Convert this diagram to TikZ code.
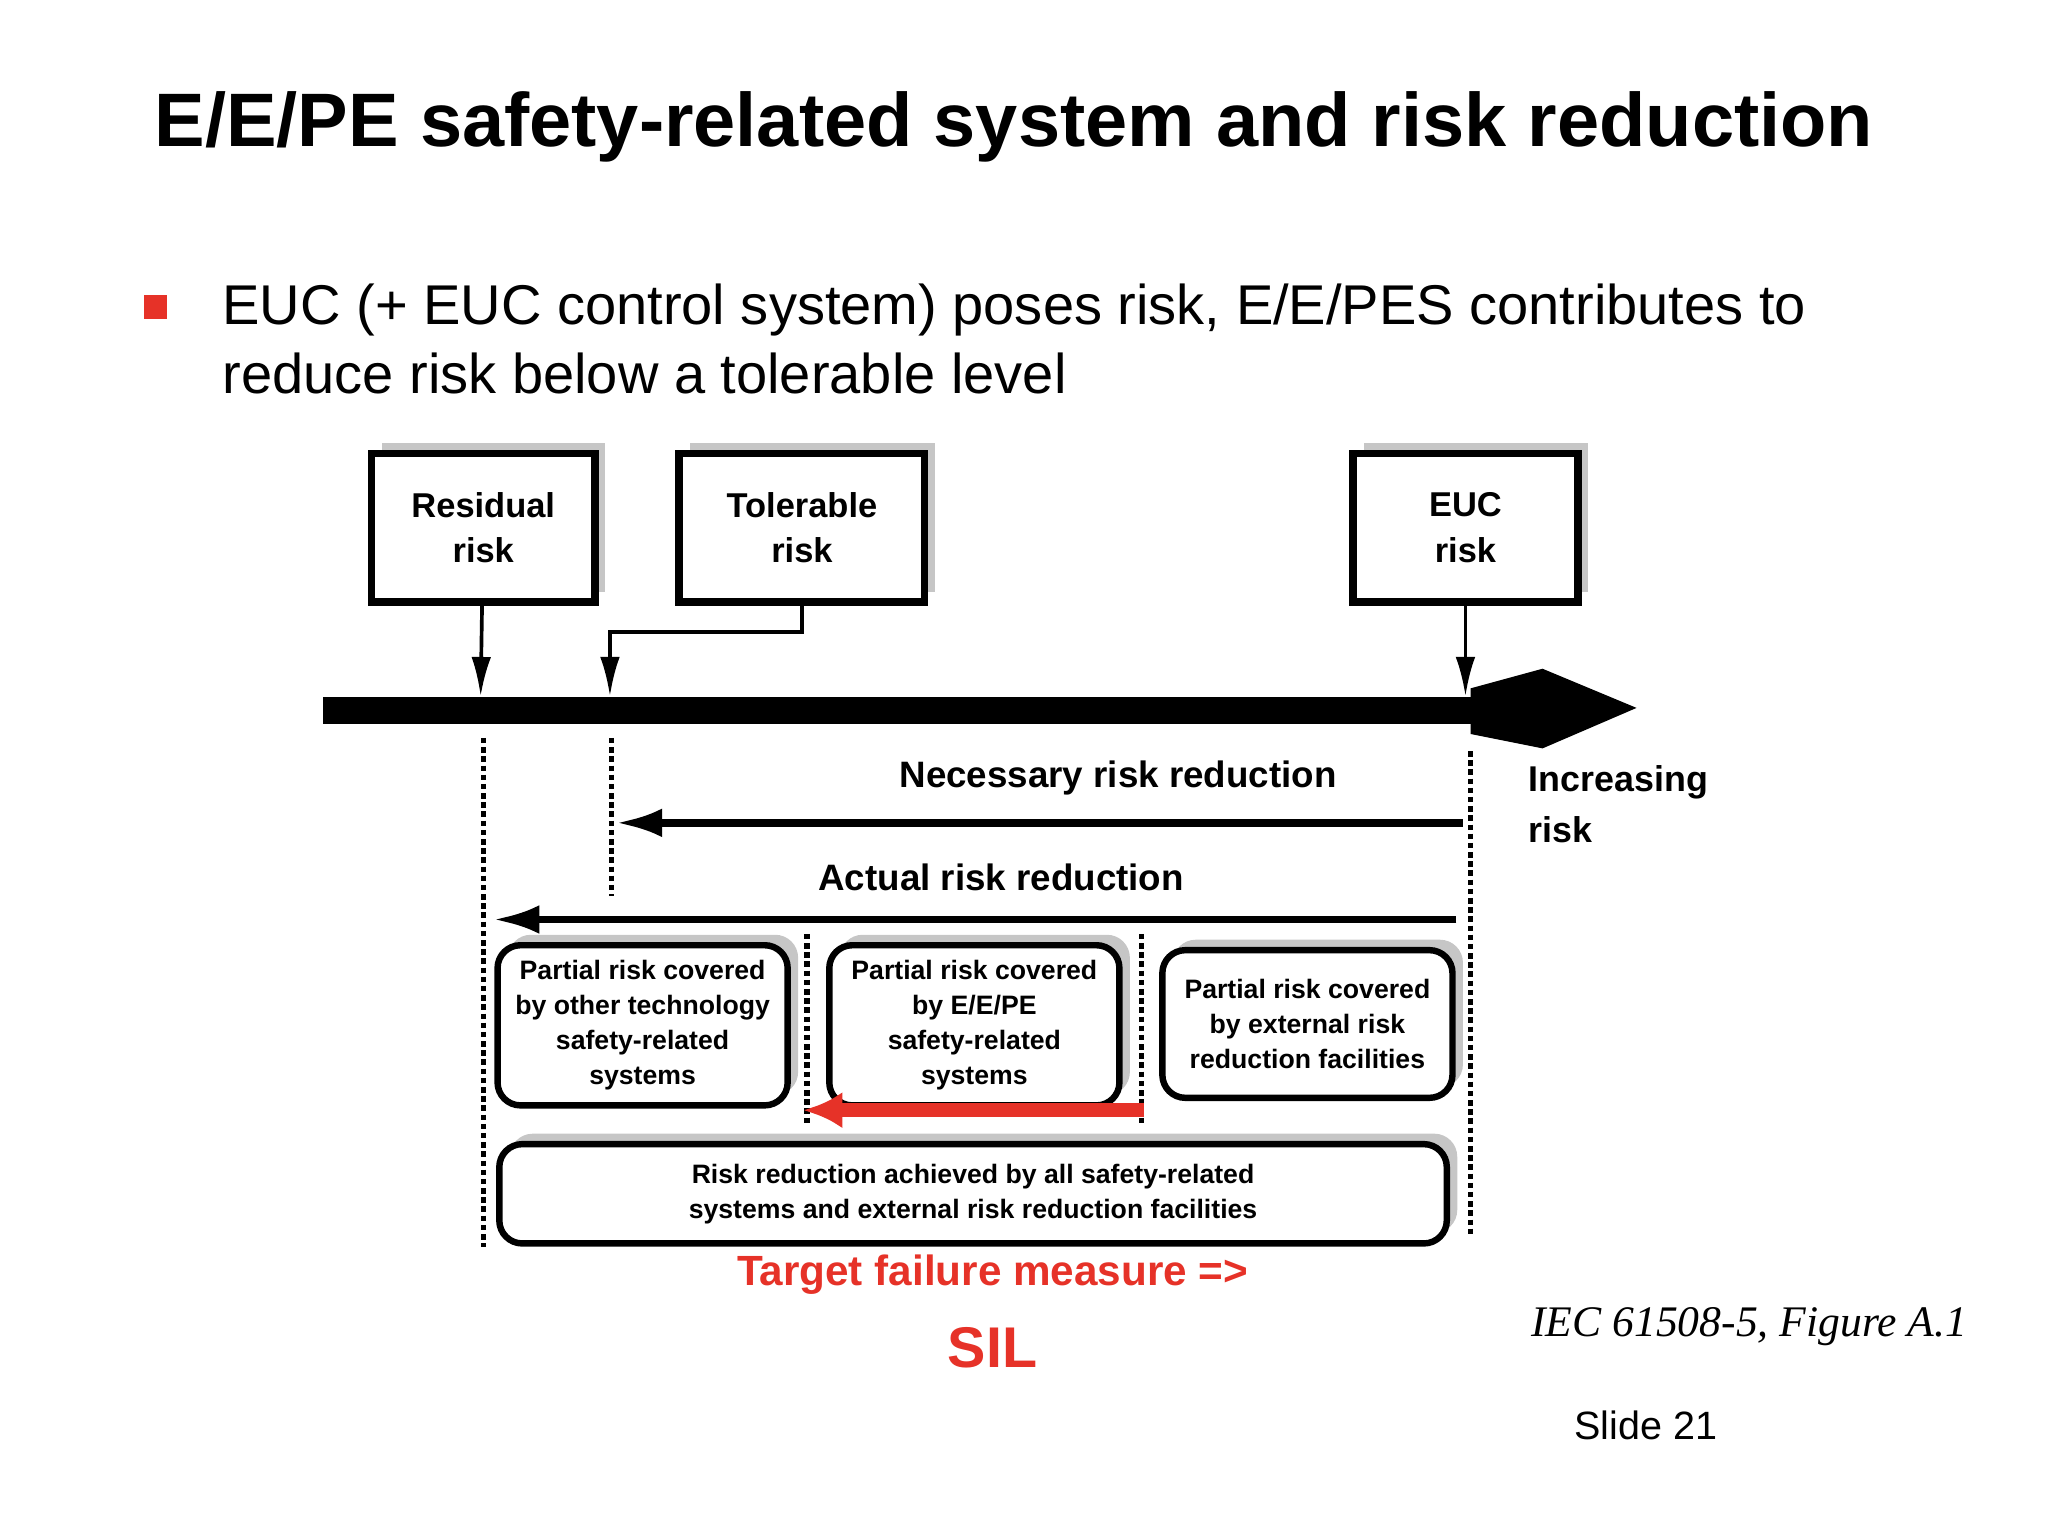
\documentclass[tikz,border=0pt]{standalone}
\usepackage{fontspec}
\setmainfont{Liberation Sans}
\newfontfamily\serifit{Liberation Serif}
\usetikzlibrary{positioning,shadows,arrows.meta}
\definecolor{slidered}{RGB}{230,50,40}
\begin{document}
\begin{tikzpicture}[
    x=0.01cm, y=-0.01cm,
    riskbox/.style = {draw, line width=1.6pt, align=center, fill=white, font=\fontsize{7.5}{10}\selectfont\bfseries,
                      drop shadow={shadow xshift=0.08cm, shadow yshift=0.08cm, fill=gray!45, opacity=1}},
    partbox/.style = {draw, line width=1.4pt, rounded corners=5pt, align=center, fill=white,
                      font=\fontsize{5.8}{7.6}\selectfont\bfseries,
                      drop shadow={shadow xshift=0.08cm, shadow yshift=0.08cm, fill=gray!45, opacity=1}},
    dotline/.style = {line width=1.2pt, dash pattern=on 1.2pt off 0.8pt},
    redarrow/.style = {-{Latex[length=0.3cm,width=0.28cm]}, line width=3pt, slidered}
  ]
    \useasboundingbox (0,0) rectangle (1568,1176);
    % heading and bullet
    \node[anchor=west, font=\fontsize{16.5}{20}\selectfont\bfseries] (title) at (106,97) {E/E/PE safety-related system and risk reduction};
    \fill[slidered] (110,226) rectangle (128,244);
    \node[anchor=north west, align=left, font=\fontsize{12.2}{15}\selectfont] (bullet) at (158,205)
      {EUC (+ EUC control system) poses risk, E/E/PES contributes to\\reduce risk below a tolerable level};

    % boxes on top
    \node[riskbox, minimum width=1.71cm, minimum height=1.14cm] (residual) at (370,404) {Residual\\risk};
    \node[riskbox, minimum width=1.88cm, minimum height=1.14cm] (tolerable) at (614,404) {Tolerable\\risk};
    \node[riskbox, minimum width=1.72cm, minimum height=1.14cm] (euc) at (1122,404) {EUC\\risk};

    % risk axis
    \coordinate (axisstart) at (247,544);
    \coordinate (axisend) at (1128,544);
    \fill (axisstart) ++(0,-10) rectangle ++(881,20);
    \fill (1126,527) -- (1181,512) -- (1253,542) -- (1181,573) -- (1126,562) -- cycle;
    \node[anchor=north west, align=left, font=\fontsize{7.8}{11}\selectfont\bfseries] (incr) at (1158,574) {Increasing\\risk};

    \coordinate (resdown) at (368,533);
    \coordinate (toldown) at (467,533);
    \coordinate (eucdown) at (1122,533);
    \draw[-{Latex[length=0.3cm,width=0.15cm]}, thick] (residual) -- (resdown);
    \draw[-{Latex[length=0.3cm,width=0.15cm]}, thick] (tolerable.south) |- (467,484) -- (toldown);
    \draw[-{Latex[length=0.3cm,width=0.15cm]}, thick] (euc) -- (eucdown);

    % dotted limits
    \draw[dotline] (370,565) -- (370,955);
    \draw[dotline] (468,565) -- (468,686);
    \draw[dotline] (1126,575) -- (1126,945);
    \draw[dotline] (618,715) -- (618,862);
    \draw[dotline] (874,715) -- (874,862);

    % reductions
    \coordinate (necR) at (1120,630);
    \coordinate (necL) at (472,630);
    \draw[-{Latex[length=0.35cm,width=0.22cm]}, line width=1.6pt] (necR) -- (necL)
      node[midway, above=2pt, xshift=0.6cm, font=\fontsize{8}{10}\selectfont\bfseries] {Necessary risk reduction};
    \coordinate (actR) at (1115,704);
    \coordinate (actL) at (378,704);
    \draw[-{Latex[length=0.35cm,width=0.22cm]}, line width=1.6pt] (actR) -- (actL)
      node[midway, above=2pt, xshift=0.2cm, font=\fontsize{8}{10}\selectfont\bfseries] {Actual risk reduction};

    % partial risks
    \node[partbox, minimum width=2.22cm, minimum height=1.1cm] (other) at (492,785) {Partial risk covered\\by other technology\\safety-related\\systems};
    \node[partbox, minimum width=2.22cm, minimum height=1.1cm] (eepe) at (746,785) {Partial risk covered\\by E/E/PE\\safety-related\\systems};
    \node[partbox, minimum width=2.22cm, minimum height=1.13cm] (external) at (1001,784) {Partial risk covered\\by external risk\\reduction facilities};
    \coordinate (redR) at (876,850);
    \coordinate (redL) at (615,850);
    \draw[redarrow] (redR) -- (redL);

    \node[partbox, minimum width=7.25cm, minimum height=0.76cm] (allsys) at (745,914) {Risk reduction achieved by all safety-related\\systems and external risk reduction facilities};

    % notes
    \node[text=slidered, align=center, font=\fontsize{9.2}{13}\selectfont\bfseries] (target) at (760,976) {Target failure measure =>};
    \node[text=slidered, font=\fontsize{12.5}{15}\selectfont\bfseries, below=0pt of target] (sil) {SIL};
    \node[anchor=west, font=\fontsize{9.5}{12}\selectfont\serifit\itshape] (source) at (1160,1016) {IEC 61508-5, Figure A.1};
    \node[font=\fontsize{8.6}{11}\selectfont] (slide) at (1260,1091) {Slide 21};
\end{tikzpicture}
\end{document}
